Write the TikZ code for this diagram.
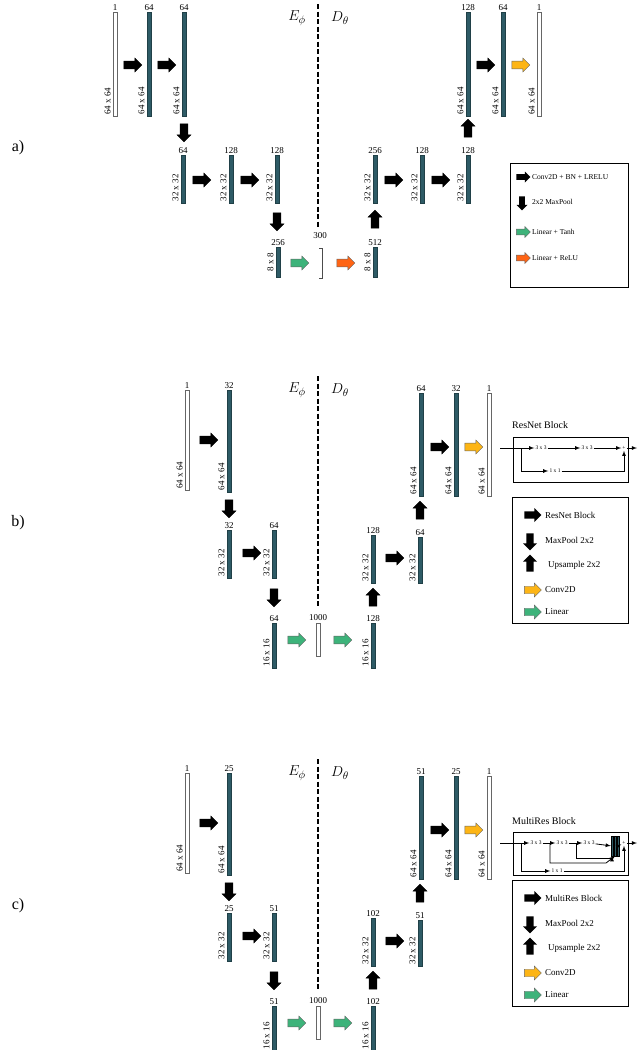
\documentclass[tikz,border=0pt]{standalone}
\usepackage{fontspec}
\setmainfont{Liberation Serif}
\usetikzlibrary{shapes.arrows}
\definecolor{teal}{HTML}{2E5B66}
\definecolor{grn}{HTML}{3DB37A}
\definecolor{org}{HTML}{FF6414}
\definecolor{ylw}{HTML}{FDB515}
\tikzset{
 tb/.style={draw=teal!70!black,fill=teal,minimum width=4.5pt,inner sep=0,line width=0.3pt},
 wb/.style={draw=black!60,fill=white,minimum width=3.5pt,inner sep=0,line width=0.5pt},
 num/.style={font=\fontsize{9}{10}\selectfont,inner sep=1.5pt},
 side/.style={font=\fontsize{9}{10}\selectfont,rotate=90,inner sep=1.5pt},
 arr/.style={single arrow,minimum height=18pt,minimum width=14pt,inner sep=3.5pt,single arrow head extend=3pt,single arrow tip angle=90},
 rk/.style={arr,fill=black,draw=black},
 dk/.style={rk,shape border rotate=270},
 uk/.style={rk,shape border rotate=90},
 gk/.style={arr,fill=grn,draw=black!60,line width=0.4pt},
 ok/.style={arr,fill=org,draw=black!60,line width=0.4pt},
 yk/.style={arr,fill=ylw,draw=black!60,line width=0.4pt},
 sk/.style={arr,minimum height=14pt,minimum width=11pt,inner sep=2.5pt,single arrow head extend=2.5pt},
 mk/.style={arr,minimum height=17pt,minimum width=14pt,inner sep=3.2pt,single arrow head extend=3pt},
 lt/.style={font=\fontsize{7.5}{8}\selectfont,anchor=west,inner sep=0},
 ltb/.style={font=\fontsize{9}{10}\selectfont,anchor=west,inner sep=0},
 box/.style={draw=black,line width=0.8pt},
 dsh/.style={line width=2pt,dash pattern=on 5pt off 2.5pt},
 fl/.style={-latex,line width=0.8pt},
 bl/.style={font=\fontsize{5.5}{6}\selectfont,inner sep=1pt},
}
% name, style, x, ytop, ybot, toplabel, sidelabel
\newcommand\vb[7]{\node[#2,minimum height={#5-#4}] (#1) at (#3,{(#4+#5)/2}) {};
 \node[num,anchor=south] at (#1.north) {#6};
 \node[side,anchor=south west] at ([xshift=-0.5pt]#1.south west) {#7};}
\newcommand\vbc[7]{\node[#2,minimum height={#5-#4}] (#1) at (#3,{(#4+#5)/2}) {};
 \node[num,anchor=south] at (#1.north) {#6};
 \node[side,anchor=south] at ([xshift=-0.5pt]#1.west) {#7};}
\begin{document}
\begin{tikzpicture}[x=1pt,y=-1pt]
\useasboundingbox (0,0) rectangle (640,1050);
% ================= a
\node[font=\fontsize{16}{18}\selectfont] (la) at (18,148) {a)};
\vb{ai}{wb}{115}{12}{116}{1}{64 x 64}
\vb{a1}{tb}{149}{12}{116}{64}{64 x 64}
\vb{a2}{tb}{184}{12}{116}{64}{64 x 64}
\node[rk] (aa1) at (131,65) {};
\node[rk] (aa2) at (165,65) {};
\node[dk] (aa3) at (184,131) {};
\vb{a3}{tb}{183}{155}{203}{64}{32 x 32}
\vb{a4}{tb}{231}{155}{203}{128}{32 x 32}
\vb{a5}{tb}{277}{155}{203}{128}{32 x 32}
\node[rk] (aa4) at (200,180) {};
\node[rk] (aa5) at (248,180) {};
\node[dk] (aa6) at (277,220) {};
\vbc{a6}{tb}{278}{247}{277}{256}{8 x 8}
\node[gk] (aa7) at (298,263) {};
\node[num] (a300) at (320,236) {300};
\coordinate (b1) at (322,248); \coordinate (b2) at (322,278);
\draw[line width=0.5pt,black!70] ([xshift=-3pt]b1) -- (b1) -- (b2) -- ([xshift=-3pt]b2);
\node[ok] (aa8) at (344,263) {};
\vbc{a7}{tb}{375}{247}{277}{512}{8 x 8}
\node[uk] (aa9) at (375,221) {};
\vb{a8}{tb}{375}{155}{203}{256}{32 x 32}
\vb{a9}{tb}{422}{155}{203}{128}{32 x 32}
\vb{a10}{tb}{468}{155}{203}{128}{32 x 32}
\node[rk] (aa10) at (392,180) {};
\node[rk] (aa11) at (439,180) {};
\node[uk] (aa12) at (468,130) {};
\vb{a11}{tb}{468}{12}{116}{128}{64 x 64}
\vb{a12}{tb}{503}{12}{116}{64}{64 x 64}
\vb{a13}{wb}{539}{12}{116}{1}{64 x 64}
\node[rk] (aa13) at (484,65) {};
\node[yk] (aa14) at (519,65) {};
\coordinate (da1) at (318,4); \coordinate (da2) at (318,228);
\draw[dsh] (da1) -- (da2);
\node[font=\fontsize{15}{17}\selectfont] (ea) at (297,18) {$E_\phi$};
\node[font=\fontsize{15}{17}\selectfont] (dA) at (340,18) {$D_\theta$};
% legend a
\node[box,minimum width=118pt,minimum height=124pt,anchor=north west] (lga) at (510,163) {};
\node[sk,fill=black] (l1) at (522,177) {}; \node[lt] at (532,177) {Conv2D + BN + LRELU};
\node[sk,fill=black,shape border rotate=270] (l2) at (522,202) {}; \node[lt] at (532,202) {2x2 MaxPool};
\node[sk,fill=grn,draw=black!60] (l3) at (522,232) {}; \node[lt] at (532,232) {Linear + Tanh};
\node[sk,fill=org,draw=black!60] (l4) at (522,258) {}; \node[lt] at (532,258) {Linear + ReLU};
% ================= b and c
\foreach \o/\p/\q/\r/\s/\lab in {0/32/64/128/1000/b), 383/25/51/102/1000/c)}{
\begin{scope}[yshift=-\o]
\node[font=\fontsize{16}{18}\selectfont] (l\lab) at (18,523) {\lab};
\vb{i\o}{wb}{187}{390}{490}{1}{64 x 64}
\vb{p\o}{tb}{229}{390}{492}{\p}{64 x 64}
\node[rk] (r1\o) at (207,440) {};
\node[dk] (r2\o) at (229,507) {};
\vb{q\o}{tb}{229}{530}{578}{\p}{32 x 32}
\vb{s\o}{tb}{274}{530}{578}{\q}{32 x 32}
\node[rk] (r3\o) at (250,553) {};
\node[dk] (r4\o) at (274,596) {};
\vb{t\o}{tb}{274}{623}{668}{\q}{16 x 16}
\node[gk] (r5\o) at (295,640) {};
\vb{u\o}{wb}{318}{623}{656}{\s}{}
\node[gk] (r6\o) at (341,640) {};
\vb{v\o}{tb}{373}{623}{668}{\r}{16 x 16}
\node[uk] (r7\o) at (373,599) {};
\vb{w\o}{tb}{373}{535}{583}{\r}{32 x 32}
\node[rk] (r8\o) at (393,558) {};
\vb{x\o}{tb}{420}{537}{583}{\q}{32 x 32}
\node[uk] (r9\o) at (420,512) {};
\vb{y\o}{tb}{421}{393}{496}{\q}{64 x 64}
\vb{z\o}{tb}{456}{393}{496}{\p}{64 x 64}
\node[rk] (r10\o) at (438,447) {};
\node[yk] (r11\o) at (472,447) {};
\vb{o\o}{wb}{489}{393}{496}{1}{64 x 64}
\coordinate (d1\o) at (318,376); \coordinate (d2\o) at (318,606);
\draw[dsh] (d1\o) -- (d2\o);
\node[font=\fontsize{15}{17}\selectfont] (e\o) at (297,390) {$E_\phi$};
\node[font=\fontsize{15}{17}\selectfont] (f\o) at (340,390) {$D_\theta$};
\node[box,minimum width=116pt,minimum height=126pt,anchor=north west] (lg\o) at (512,497) {};
\end{scope}}
% legend b
\node[mk,fill=black] (m1) at (531,515) {}; \node[ltb] at (545,515) {ResNet Block};
\node[mk,fill=black,shape border rotate=270] (m2) at (530,540) {}; \node[ltb] at (545,540) {MaxPool 2x2};
\node[mk,fill=black,shape border rotate=90] (m3) at (530,565) {}; \node[ltb] at (548,565) {Upsample 2x2};
\node[mk,fill=ylw,draw=black!60] (m4) at (531,590) {}; \node[ltb] at (545,590) {Conv2D};
\node[mk,fill=grn,draw=black!60] (m5) at (531,612) {}; \node[ltb] at (545,612) {Linear};
% legend c
\node[mk,fill=black] (n1) at (531,898) {}; \node[ltb] at (545,898) {MultiRes Block};
\node[mk,fill=black,shape border rotate=270] (n2) at (530,923) {}; \node[ltb] at (545,923) {MaxPool 2x2};
\node[mk,fill=black,shape border rotate=90] (n3) at (530,948) {}; \node[ltb] at (548,948) {Upsample 2x2};
\node[mk,fill=ylw,draw=black!60] (n4) at (531,973) {}; \node[ltb] at (545,973) {Conv2D};
\node[mk,fill=grn,draw=black!60] (n5) at (531,995) {}; \node[ltb] at (545,995) {Linear};
% ResNet block
\node[font=\fontsize{10}{11}\selectfont,anchor=west,inner sep=0] (rt) at (512,425) {ResNet Block};
\node[box,minimum width=115pt,minimum height=45pt,anchor=north west] (rb) at (513,437) {};
\coordinate (ri) at (500,448);
\node[bl] (r33a) at (541,448) {3 x 3};
\node[bl] (r33b) at (587,448) {3 x 3};
\node[bl] (rp) at (624,448) {+};
\node[bl] (r11) at (555,471) {1 x 1};
\coordinate (ro) at (637,448);
\coordinate (rs) at (521,448);
\draw[fl] (ri) -- (r33a);
\draw[fl] (r33a) -- (r33b);
\draw[fl] (r33b) -- (rp);
\draw[fl] (rp) -- (ro);
\draw[fl] (rs) |- (r11);
\draw[fl] (r11) -| (rp);
% MultiRes block
\node[font=\fontsize{10}{11}\selectfont,anchor=west,inner sep=0] (mt) at (512,821) {MultiRes Block};
\node[box,minimum width=115pt,minimum height=43pt,anchor=north west] (mb) at (513,832) {};
\coordinate (mi) at (500,843);
\node[bl] (m33a) at (536,843) {3 x 3};
\node[bl] (m33b) at (562,843) {3 x 3};
\node[bl] (m33c) at (589,843) {3 x 3};
\node[draw=black,fill=teal,minimum width=2pt,minimum height=20pt,inner sep=0,line width=0.3pt] (cc1) at (612,846) {};
\node[draw=black,fill=teal,minimum width=2pt,minimum height=20pt,inner sep=0,line width=0.3pt] (cc2) at (615,846) {};
\node[draw=black,fill=teal,minimum width=2pt,minimum height=20pt,inner sep=0,line width=0.3pt] (cc3) at (618,846) {};
\node[bl] (mp) at (624,843) {+};
\node[bl] (m11) at (557,871) {1 x 1};
\coordinate (mo) at (637,843);
\coordinate (ms) at (521,843);
\coordinate (mb1) at (550,843);
\coordinate (mb2) at (576,843);
\draw[fl] (mi) -- (m33a);
\draw[fl] (m33a) -- (m33b);
\draw[fl] (m33b) -- (m33c);
\draw[fl] (m33c) -- (cc1);
\draw[fl] (mb1) |- (606,863) -- (cc2.south);
\draw[fl] (mb2) |- (604,858) -| (cc1.south);
\draw[fl] (cc3) -- (mp);
\draw[fl] (mp) -- (mo);
\draw[fl] (ms) |- (m11);
\draw[fl] (m11) -| (mp);
\end{tikzpicture}
\end{document}
